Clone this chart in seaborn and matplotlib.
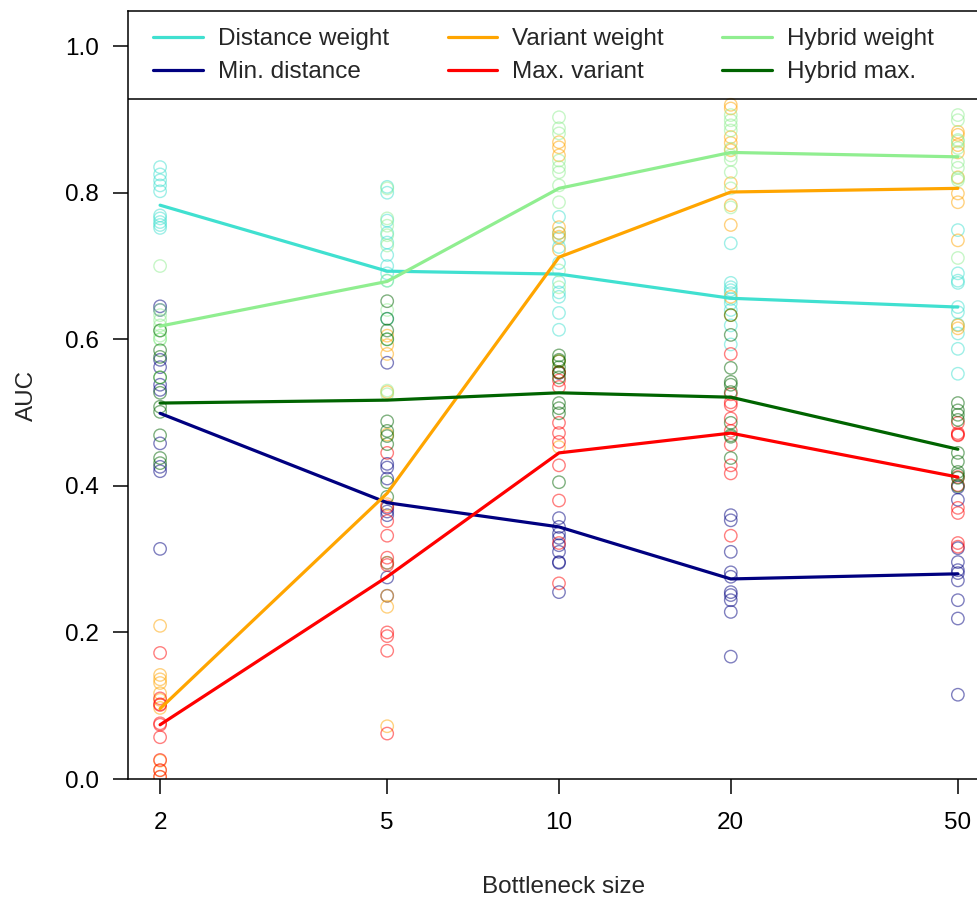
import numpy as np
import pandas as pd
import seaborn as sns
import matplotlib.pyplot as plt

sizes = [2, 5, 10, 20, 50]
methods = ["Distance weight", "Min. distance", "Variant weight",
           "Max. variant", "Hybrid weight", "Hybrid max."]
colors = ["turquoise", "navy", "orange", "red", "lightgreen", "darkgreen"]

# mean AUC per bottleneck size (the lines)
dist_weight_mean = [0.783, 0.693, 0.689, 0.656, 0.644]
min_dist_mean = [0.499, 0.377, 0.344, 0.273, 0.280]
var_weight_mean = [0.096, 0.390, 0.712, 0.801, 0.806]
max_var_mean = [0.074, 0.276, 0.445, 0.472, 0.412]
hyb_weight_mean = [0.618, 0.679, 0.806, 0.855, 0.849]
hyb_max_mean = [0.513, 0.517, 0.527, 0.521, 0.450]

# AUC of the single runs (circles), one list per bottleneck size
dist_weight_runs = [
    [0.835, 0.825, 0.817, 0.810, 0.802, 0.769, 0.765, 0.760, 0.756, 0.752],
    [0.808, 0.800, 0.762, 0.745, 0.732, 0.715, 0.700, 0.690, 0.680, 0.628],
    [0.767, 0.745, 0.738, 0.726, 0.704, 0.678, 0.664, 0.658, 0.636, 0.613],
    [0.731, 0.677, 0.671, 0.667, 0.663, 0.655, 0.649, 0.640, 0.619, 0.593],
    [0.749, 0.690, 0.680, 0.677, 0.644, 0.637, 0.620, 0.608, 0.587, 0.553],
]
min_dist_runs = [
    [0.645, 0.640, 0.572, 0.562, 0.538, 0.531, 0.458, 0.426, 0.420, 0.314],
    [0.568, 0.430, 0.425, 0.410, 0.370, 0.365, 0.360, 0.295, 0.275, 0.250],
    [0.554, 0.356, 0.344, 0.335, 0.329, 0.319, 0.310, 0.296, 0.295, 0.255],
    [0.360, 0.353, 0.310, 0.282, 0.276, 0.255, 0.251, 0.244, 0.228, 0.167],
    [0.398, 0.381, 0.315, 0.296, 0.285, 0.281, 0.271, 0.244, 0.219, 0.115],
]
var_weight_runs = [
    [0.209, 0.142, 0.136, 0.131, 0.117, 0.108, 0.097, 0.025, 0.012, 0.003],
    [0.605, 0.592, 0.580, 0.528, 0.470, 0.375, 0.295, 0.250, 0.235, 0.072],
    [0.869, 0.862, 0.851, 0.753, 0.745, 0.740, 0.722, 0.570, 0.555, 0.453],
    [0.920, 0.915, 0.876, 0.868, 0.858, 0.813, 0.783, 0.756, 0.658, 0.633],
    [0.883, 0.879, 0.865, 0.855, 0.821, 0.799, 0.787, 0.735, 0.619, 0.615],
]
max_var_runs = [
    [0.172, 0.110, 0.102, 0.101, 0.076, 0.074, 0.057, 0.026, 0.012, 0.003],
    [0.445, 0.372, 0.352, 0.332, 0.302, 0.292, 0.200, 0.195, 0.175, 0.062],
    [0.555, 0.544, 0.535, 0.486, 0.472, 0.460, 0.428, 0.380, 0.322, 0.267],
    [0.580, 0.525, 0.514, 0.510, 0.492, 0.475, 0.456, 0.428, 0.417, 0.332],
    [0.486, 0.472, 0.470, 0.469, 0.412, 0.401, 0.370, 0.363, 0.322, 0.317],
]
hyb_weight_runs = [
    [0.700, 0.640, 0.633, 0.626, 0.619, 0.612, 0.605, 0.600, 0.600, 0.548],
    [0.806, 0.765, 0.755, 0.742, 0.728, 0.680, 0.640, 0.600, 0.530, 0.525],
    [0.903, 0.888, 0.881, 0.844, 0.835, 0.828, 0.810, 0.787, 0.694, 0.671],
    [0.906, 0.899, 0.892, 0.885, 0.860, 0.851, 0.845, 0.828, 0.806, 0.780],
    [0.906, 0.899, 0.872, 0.870, 0.861, 0.842, 0.834, 0.820, 0.817, 0.711],
]
hyb_max_runs = [
    [0.612, 0.585, 0.576, 0.548, 0.527, 0.508, 0.501, 0.469, 0.438, 0.431],
    [0.652, 0.628, 0.612, 0.600, 0.488, 0.475, 0.468, 0.457, 0.405, 0.385],
    [0.578, 0.572, 0.570, 0.562, 0.555, 0.548, 0.513, 0.506, 0.499, 0.405],
    [0.633, 0.606, 0.561, 0.542, 0.538, 0.528, 0.486, 0.469, 0.467, 0.438],
    [0.513, 0.503, 0.497, 0.490, 0.445, 0.433, 0.419, 0.415, 0.411, 0.400],
]

means = [dist_weight_mean, min_dist_mean, var_weight_mean,
         max_var_mean, hyb_weight_mean, hyb_max_mean]
runs = [dist_weight_runs, min_dist_runs, var_weight_runs,
        max_var_runs, hyb_weight_runs, hyb_max_runs]

# long-form tables
pts = pd.DataFrame([(m, s, v) for m, r in zip(methods, runs)
                    for s, vals in zip(sizes, r) for v in vals],
                   columns=["method", "size", "auc"])
lines = pd.DataFrame([(m, s, v) for m, mv in zip(methods, means)
                      for s, v in zip(sizes, mv)],
                     columns=["method", "size", "auc"])

sns.set_theme(style="ticks", rc={"axes.edgecolor": "black", "axes.linewidth": 1.1,
                                 "xtick.color": "black", "ytick.color": "black",
                                 "xtick.major.width": 1.1, "ytick.major.width": 1.1})
plt.rcParams["font.family"] = ["Liberation Sans", "DejaVu Sans"]

fig = plt.figure(figsize=(9.77, 8.99), dpi=100)
ax = fig.add_axes([128 / 977, 1 - 779 / 899, 872 / 977, 768 / 899])

for m, c in zip(methods, colors):
    d = pts[pts["method"] == m]
    sns.scatterplot(data=d, x="size", y="auc", ax=ax, marker="o", s=80,
                    facecolor="none", edgecolor=c, linewidth=1.0, alpha=0.5,
                    legend=False)

sns.lineplot(data=lines, x="size", y="auc", hue="method", hue_order=methods,
             palette=colors, linewidth=2.3, ax=ax, legend=False)

ax.set_xscale("log")
ax.set_xlim(10 ** (np.log10(2) - 32 / 569), 10 ** (np.log10(50) + 42 / 569))
ax.set_ylim(0, 1.048)
ax.set_xticks(sizes)
ax.set_xticklabels([str(s) for s in sizes])
ax.minorticks_off()
ax.set_yticks([0.0, 0.2, 0.4, 0.6, 0.8, 1.0])
ax.set_yticklabels(["0.0", "0.2", "0.4", "0.6", "0.8", "1.0"])
ax.tick_params(axis="both", labelsize=17.5, length=11, pad=10)
ax.tick_params(axis="x", pad=13)
ax.spines["right"].set_visible(False)

# legend box (its lower edge)
ax.axhline(0.928, color="black", linewidth=1.1)

ax.set_xlabel("Bottleneck size", fontsize=17.5, labelpad=30)
ax.set_ylabel("AUC", fontsize=17.5, labelpad=19)

handles = [plt.Line2D([], [], color=c, linewidth=2.3) for c in colors]
fig.legend(handles, methods, loc="upper left", bbox_to_anchor=(141 / 977, 1 - 16 / 899),
           ncol=3, frameon=False, fontsize=17.5, borderpad=0, handlelength=2.05,
           handletextpad=0.62, columnspacing=2.4, labelspacing=0.45)

fig.savefig("out.png", dpi=100)
